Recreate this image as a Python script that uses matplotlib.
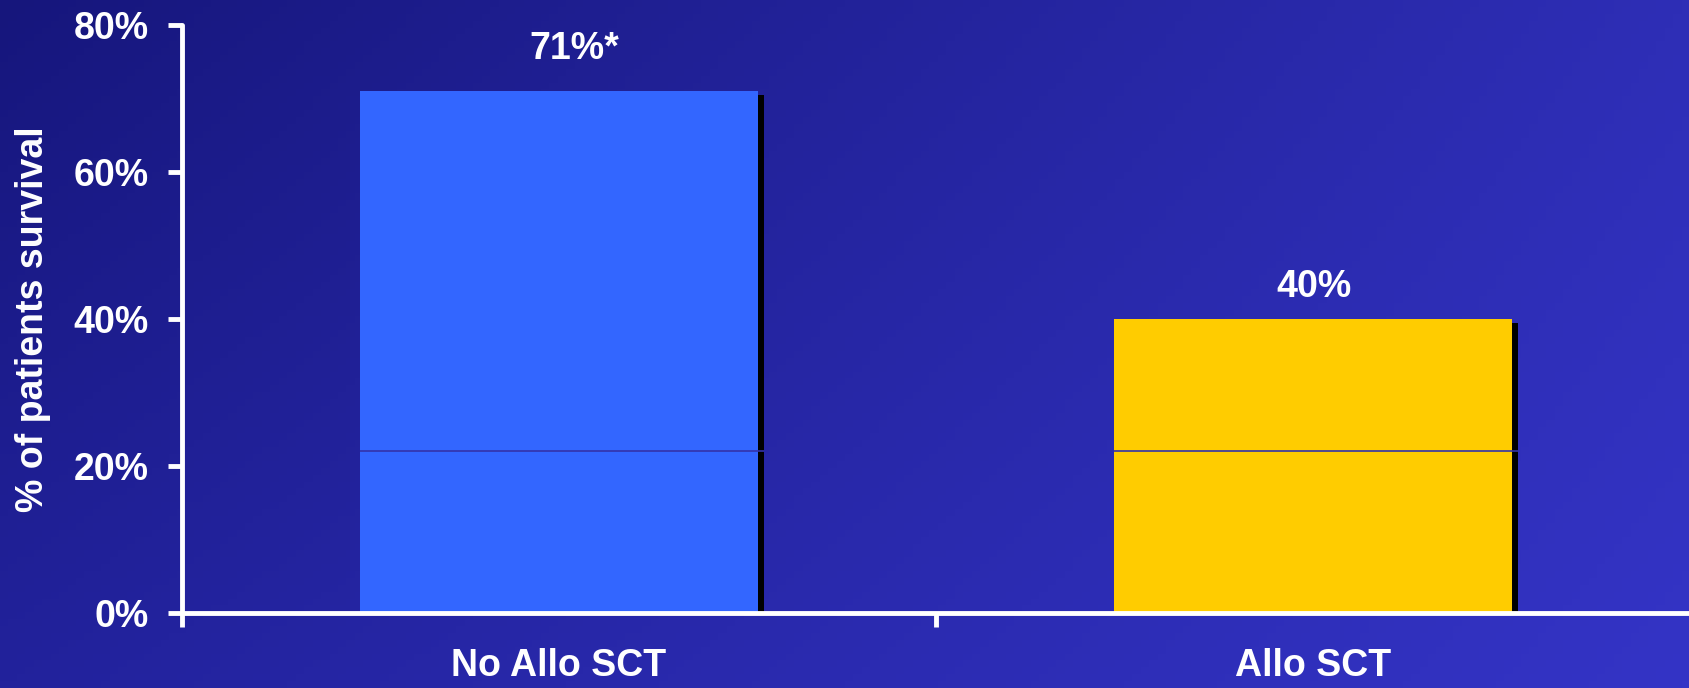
import numpy as np
import matplotlib
matplotlib.use("Agg")
import matplotlib.pyplot as plt
import matplotlib.transforms as mtransforms

plt.rcParams['font.family'] = ['Liberation Sans', 'DejaVu Sans']
plt.rcParams['font.weight'] = 'bold'

# data
categories = ["No Allo SCT", "Allo SCT"]
lower_part = [22, 22]
totals = [71, 40]
value_labels = ["71%*", "40%"]
bar_colors = ["#3366FF", "#FFCC00"]
yticks = [0, 20, 40, 60, 80]

fig = plt.figure(figsize=(16.9, 6.88), dpi=100)

# gradient background
bg = fig.add_axes([0, 0, 1, 1], zorder=-10)
tl = np.array([0x16, 0x16, 0x7C]) / 255
tr = np.array([0x2E, 0x2E, 0xB6]) / 255
bl = np.array([0x22, 0x22, 0x9C]) / 255
br = np.array([0x34, 0x34, 0xC6]) / 255
u = np.linspace(0, 1, 200)[None, :, None]
v = np.linspace(0, 1, 100)[:, None, None]
grad = (1 - v) * ((1 - u) * tl + u * tr) + v * ((1 - u) * bl + u * br)
bg.imshow(grad, aspect='auto', extent=[0, 1, 0, 1], origin='upper')
bg.axis('off')

ax = fig.add_axes([182 / 1690, 1 - 613 / 688, 1 - 182 / 1690, (613 - 25) / 688])
ax.patch.set_alpha(0)

x = np.arange(len(categories)) + 0.5
width = 0.528
upper_part = [t - l for t, l in zip(totals, lower_part)]

# drop shadow behind each bar
shadow = mtransforms.offset_copy(ax.transData, fig=fig, x=6, y=-4, units='dots')
shadows = ax.bar(x, totals, width, color='black', zorder=1)
for p in shadows:
    p.set_transform(shadow)

ax.bar(x, lower_part, width, color=bar_colors, zorder=2)
ax.bar(x, upper_part, width, bottom=lower_part, color=bar_colors, zorder=2)
ax.hlines(lower_part, x - width / 2, x + width / 2 + 0.008, color='#3333AA', lw=1.2, zorder=3)

offsets = [(11, 23), (1, 16)]
for xi, t, lab, off in zip(x, totals, value_labels, offsets):
    ax.annotate(lab, (xi, t), xytext=off, textcoords='offset points',
                ha='center', va='baseline', color='white', fontsize=27, fontweight='bold')

ax.set_xlim(0, 2)
ax.set_ylim(0, 80)
ax.set_yticks(yticks)
ax.set_yticklabels([f"{t}%" for t in yticks])
ax.set_xticks([0, 1])
ax.set_xticklabels([])
ax.set_xticks(x, minor=True)
ax.set_xticklabels(categories, minor=True)

ax.tick_params(axis='both', which='major', colors='white', length=10, width=3.5,
               labelsize=27, pad=14)
ax.tick_params(axis='x', which='minor', length=0, pad=25, labelsize=27, colors='white')

for s in ['top', 'right']:
    ax.spines[s].set_visible(False)
for s in ['left', 'bottom']:
    ax.spines[s].set_color('white')
    ax.spines[s].set_linewidth(3.5)
    ax.spines[s].set_zorder(5)
    ax.spines[s].set_capstyle('round')

ax.set_ylabel("% of patients survival", color='white', fontsize=27, fontweight='bold', va='center')
ax.yaxis.set_label_coords(-0.0988, 0.5)

plt.savefig("out.png", dpi=100)
